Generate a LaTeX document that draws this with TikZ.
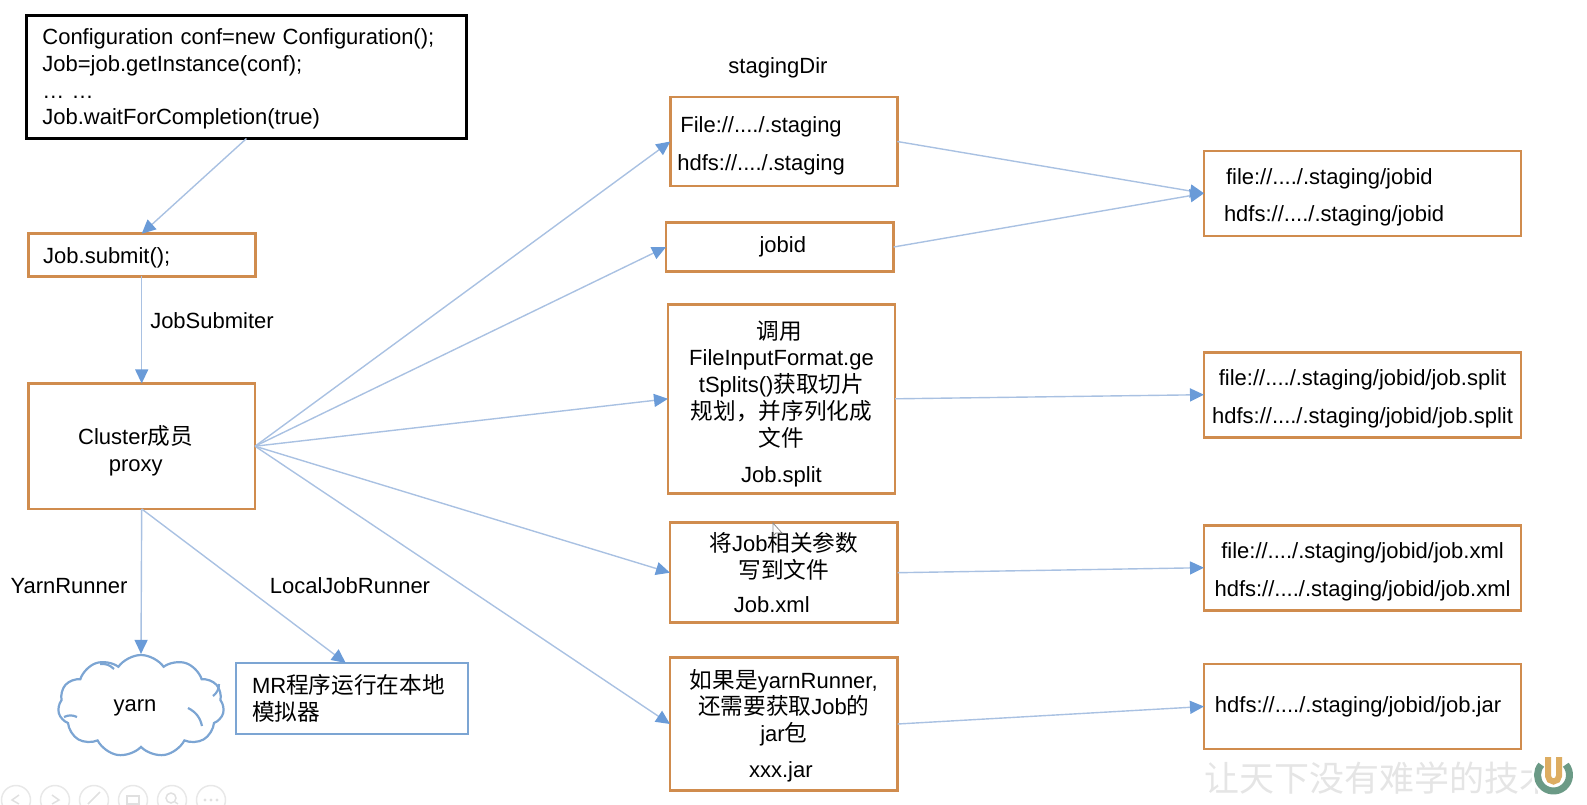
\documentclass[tikz,border=0pt]{standalone}
\usepackage{fontspec}
\setmainfont{Liberation Sans}
\newfontfamily\cjk[Scale=1.03]{Noto Sans CJK SC}
\newfontfamily\mottofont{Noto Sans CJK SC}
\usetikzlibrary{arrows.meta, shapes.symbols}
\definecolor{boxorange}{HTML}{D08C4E}
\definecolor{lineblue}{HTML}{A9C1E2}
\definecolor{tipblue}{HTML}{6A9BD8}
\definecolor{edgeblue}{HTML}{7CA5D3}
\definecolor{logogreen}{HTML}{6B9A86}
\definecolor{logogold}{HTML}{DDAD62}
\newcommand\lineup[1]{\rule{0pt}{#1pt}}
\tikzset{
  orangebox/.style = {draw = boxorange, line width = 2.6pt, align = center, font = \fontsize{22}{26.8}\selectfont, outer sep = 0pt},
  bluebox/.style = {orangebox, draw = edgeblue},
  plaintext/.style = {font = \fontsize{22}{26.8}\selectfont, inner sep = 0pt},
  flow/.style = {draw = lineblue, line width = 1.4pt, -{Triangle[length = 14pt, width = 13pt, fill = tipblue, color = tipblue]}},
  buttonring/.style = {draw = black!9, line width = 1.5pt},
  buttonmark/.style = {draw = black!12, line width = 1.5pt}
}
\begin{document}
\begin{tikzpicture}[x = 1pt, y = -1pt]
\useasboundingbox (0, 0) rectangle (1587, 804);
\clip (0, 0) rectangle (1587, 804);
% left column
\node[orangebox, draw = black, align = left, inner xsep = 16pt, text width = 408pt, minimum height = 123.4pt] (code) at (246.4, 76.9)
  {\lineup{20}Configuration conf=new Configuration();\\Job=job.getInstance(conf);\\… …\\Job.waitForCompletion(true)};
\node[orangebox, align = left, inner xsep = 15pt, text width = 197pt, minimum height = 42.5pt] (submit) at (141.7, 255) {\lineup{22}Job.submit();};
\node[orangebox, minimum width = 226.7pt, minimum height = 125.5pt] (cluster) at (141.7, 446.2)
  {\lineup{28}Cluster{\cjk 成员}\hspace*{12pt}\\proxy\hspace*{12pt}};
\node[draw = edgeblue, line width = 2.2pt, cloud, cloud puffs = 11, cloud puff arc = 110, aspect = 1.6, minimum width = 166pt, minimum height = 102pt, inner sep = 0pt, font = \fontsize{22}{26.8}\selectfont] (yarn) at (141, 706) {\lineup{16}yarn\hspace*{12pt}};
\foreach \ax/\ay/\bx/\by in {100/664/114/669, 188/708/202/726, 219/684/213/696, 64/717/77/717}
  \draw[edgeblue, line width = 2.2pt] (\ax, \ay) to[bend left = 25] (\bx, \by);
\node[bluebox, align = left, inner xsep = 16pt, text width = 200pt, minimum height = 71pt] (local) at (352, 698.5)
  {MR{\cjk 程序运行在本地}\\{\cjk 模拟器}};
% middle column
\node[orangebox, align = left, inner xsep = 7pt, text width = 213pt, minimum height = 89pt] (staging) at (783.8, 141.5)
  {\lineup{24}\hspace*{3pt}File://..../.staging\\[11pt]hdfs://..../.staging};
\node[orangebox, minimum width = 227.6pt, minimum height = 48.6pt] (jobid) at (779.8, 247) {\hspace*{6pt}jobid};
\node[orangebox, minimum width = 227pt, minimum height = 189pt] (split) at (781.5, 398.8)
  {\lineup{28}{\cjk 调用}\hspace*{5pt}\\FileInputFormat.ge\hspace*{9pt}\\tSplits(){\cjk 获取切片}\hspace*{5pt}\\{\cjk 规划，并序列化成}\hspace*{5pt}\\{\cjk 文件}\hspace*{5pt}\\[9pt]Job.split};
\node[orangebox, minimum width = 227.7pt, minimum height = 100pt] (xml) at (783.8, 572.7)
  {{\cjk 将}Job{\cjk 相关参数}\\{\cjk 写到文件}\\[7pt]\hspace*{-24pt}Job.xml};
\node[orangebox, minimum width = 227.6pt, minimum height = 132.6pt] (jar) at (783.8, 724)
  {\lineup{22}{\cjk 如果是}yarnRunner,\\{\cjk 还需要获取}Job{\cjk 的}\\jar{\cjk 包}\\[9pt]xxx.jar\hspace*{6pt}};
% right column
\node[orangebox, align = left, inner xsep = 20pt, text width = 277pt, minimum height = 85pt] (jobdir) at (1362.5, 193.3)
  {\lineup{24}\hspace*{2pt}file://..../.staging/jobid\\[11pt]hdfs://..../.staging/jobid};
\node[orangebox, minimum width = 317pt, minimum height = 85pt] (splitfile) at (1362.5, 394.7)
  {\lineup{24}file://..../.staging/jobid/job.split\\[11pt]hdfs://..../.staging/jobid/job.split};
\node[orangebox, minimum width = 317pt, minimum height = 85pt] (xmlfile) at (1362.5, 567.7)
  {\lineup{24}file://..../.staging/jobid/job.xml\\[11pt]hdfs://..../.staging/jobid/job.xml};
\node[orangebox, minimum width = 317pt, minimum height = 85pt] (jarfile) at (1362.5, 706.5)
  {hdfs://..../.staging/jobid/job.jar\hspace*{9pt}};
% labels
\node[plaintext] (stagingdir) at (778, 68) {stagingDir};
\node[plaintext] (jobsubmiter) at (212, 321) {JobSubmiter};
\node[plaintext] (yarnrunner) at (69, 586) {YarnRunner};
\node[plaintext] (localrunner) at (350, 586) {LocalJobRunner};
% connectors
\draw[flow] (code.south) -- (submit.north);
\draw[flow] (submit.south) -- (cluster.north);
\draw[flow] (cluster.south) -- (yarn.north);
\draw[flow] (cluster.south) -- (local.100);
\foreach \target in {staging, jobid, split, xml, jar}
  \draw[flow] (cluster.east) -- (\target.west);
\draw[flow] (staging.east) -- (jobdir.west);
\draw[flow] (jobid.east) -- (jobdir.west);
\draw[flow] (split.east) -- (splitfile.west);
\draw[flow] (xml.east) -- (xmlfile.west);
\draw[flow] (jar.east) -- (jarfile.west);
% pointer
\draw[black!45, line width = 0.8pt] (773, 523) -- (773, 536) -- (776, 533) -- (782, 533) -- cycle;
% player buttons
\foreach \px in {16, 55, 94, 133, 172, 211}
  \draw[buttonring] (\px, 800) circle (14.5);
\draw[buttonmark] (19, 795) -- (12, 800) -- (19, 804);
\draw[buttonmark] (52, 795) -- (59, 800) -- (52, 804);
\draw[buttonmark] (88, 804) -- (100, 792);
\draw[buttonmark] (127, 796) rectangle (139, 804);
\draw[buttonmark] (171, 798) circle (5);
\draw[buttonmark] (175, 802) -- (178, 804);
\foreach \dotx in {205, 211, 217}
  \fill[black!12] (\dotx, 800) circle (1.6);
% watermark
\node[inner sep = 0pt, text = black!10, font = \mottofont\fontsize{35}{35}\selectfont, anchor = west] (motto) at (1204, 778) {让天下没有难学的技术};
\fill[white] (1553.5, 775) circle (22);
\draw[logogreen, line width = 7pt] (1553.5, 775) ++(-40:16) arc[start angle = -40, end angle = 220, radius = 16];
\draw[logogold, line width = 6pt] (1548, 757) -- (1548, 776) arc[start angle = 180, end angle = 0, radius = 5.5] -- (1559, 757);
\end{tikzpicture}
\end{document}
